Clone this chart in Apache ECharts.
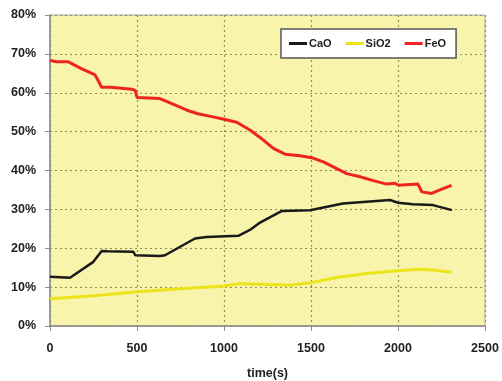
<!DOCTYPE html>
<html>
<head>
<meta charset="utf-8">
<script src="https://cdn.jsdelivr.net/npm/echarts@6/dist/echarts.min.js"></script>
<style>
  html, body { margin: 0; padding: 0; background: #fff; }
  #chart { width: 502px; height: 381px; }
</style>
</head>
<body>
<div id="chart"></div>
<script>
// time (s) / percent values
const caoTime = [0, 115, 249, 297, 330, 479, 490, 632, 661, 833, 900, 1082, 1149, 1207, 1333, 1494, 1684, 1858, 1954, 2000, 2086, 2201, 2310];
const caoVal  = [12.7, 12.4, 16.5, 19.3, 19.2, 19.1, 18.2, 18.0, 18.2, 22.5, 22.9, 23.2, 24.7, 26.6, 29.6, 29.8, 31.5, 32.1, 32.4, 31.7, 31.3, 31.1, 29.8];

const sio2Time = [0, 250, 500, 750, 1000, 1092, 1250, 1379, 1494, 1648, 1820, 1995, 2126, 2201, 2310];
const sio2Val  = [7.0, 7.8, 8.8, 9.6, 10.3, 10.9, 10.7, 10.5, 11.1, 12.5, 13.5, 14.2, 14.6, 14.4, 13.8];

const feoTime = [0, 40, 103, 180, 259, 297, 350, 470, 490, 500, 632, 700, 787, 850, 937, 1000, 1073, 1149, 1207, 1284, 1351, 1437, 1504, 1571, 1648, 1705, 1782, 1858, 1935, 1983, 2002, 2115, 2137, 2193, 2241, 2308];
const feoVal  = [68.3, 68.0, 68.0, 66.2, 64.6, 61.4, 61.4, 60.9, 60.6, 58.8, 58.5, 57.2, 55.5, 54.6, 53.8, 53.2, 52.4, 50.4, 48.5, 45.7, 44.2, 43.8, 43.3, 42.2, 40.5, 39.2, 38.4, 37.4, 36.5, 36.7, 36.2, 36.5, 34.5, 34.1, 35.0, 36.2];

const seriesNames = ['CaO', 'SiO2', 'FeO'];
const seriesColors = ['#1a1a1a', '#ece41a', '#ee2424'];

const xTicks = { min: 0, max: 2500, interval: 500 };
const yTicks = { min: 0, max: 80, interval: 10 };

function pairs(t, v) {
  return t.map((x, i) => [x, v[i]]);
}

const chart = echarts.init(document.getElementById('chart'));
const labelStyle = {
  color: '#222',
  fontFamily: 'Liberation Sans, Arial, sans-serif',
  fontWeight: 'bold',
  fontSize: 12.5
};

chart.setOption({
  animation: false,
  backgroundColor: '#fff',
  grid: {
    left: 50, right: 17, top: 15, bottom: 55,
    containLabel: false,
    outerBoundsMode: 'none',
    show: true,
    backgroundColor: '#f8f4ab',
    borderColor: '#a9a9a0',
    borderWidth: 1
  },
  legend: {
    data: seriesNames,
    left: 281, top: 29,
    width: 164, height: 32,
    padding: [9, 10, 9, 8],
    itemGap: 14,
    itemWidth: 18, itemHeight: 3,
    icon: 'rect',
    backgroundColor: '#fff',
    borderColor: '#555',
    borderWidth: 1.5,
    textStyle: Object.assign({}, labelStyle, { fontSize: 11, padding: [0, 0, 0, -3] })
  },
  xAxis: {
    type: 'value',
    min: xTicks.min, max: xTicks.max, interval: xTicks.interval,
    name: 'time(s)',
    nameLocation: 'middle',
    nameGap: 41,
    nameTextStyle: labelStyle,
    axisLine: { show: true, lineStyle: { color: '#8c8c84', width: 1.5 } },
    axisTick: { show: true, length: 5, lineStyle: { color: '#8c8c84' } },
    axisLabel: Object.assign({ margin: 16, formatter: v => String(v) }, labelStyle),
    splitLine: { show: true, lineStyle: { color: '#8f8c60', type: [2, 3], width: 1.2 } }
  },
  yAxis: {
    type: 'value',
    min: yTicks.min, max: yTicks.max, interval: yTicks.interval,
    axisLine: { show: true, lineStyle: { color: '#8c8c84', width: 1.5 } },
    axisTick: { show: true, length: 5, lineStyle: { color: '#8c8c84' } },
    axisLabel: Object.assign({ margin: 14, formatter: '{value}%' }, labelStyle),
    splitLine: { show: true, lineStyle: { color: '#8f8c60', type: [2, 3], width: 1.2 } }
  },
  series: [
    { name: 'CaO', type: 'line', data: pairs(caoTime, caoVal) },
    { name: 'SiO2', type: 'line', data: pairs(sio2Time, sio2Val) },
    { name: 'FeO', type: 'line', data: pairs(feoTime, feoVal) }
  ].map((s, i) => Object.assign(s, {
    symbol: 'none',
    color: seriesColors[i],
    lineStyle: { color: seriesColors[i], width: i === 0 ? 2.5 : 3 }
  }))
});
</script>
</body>
</html>
